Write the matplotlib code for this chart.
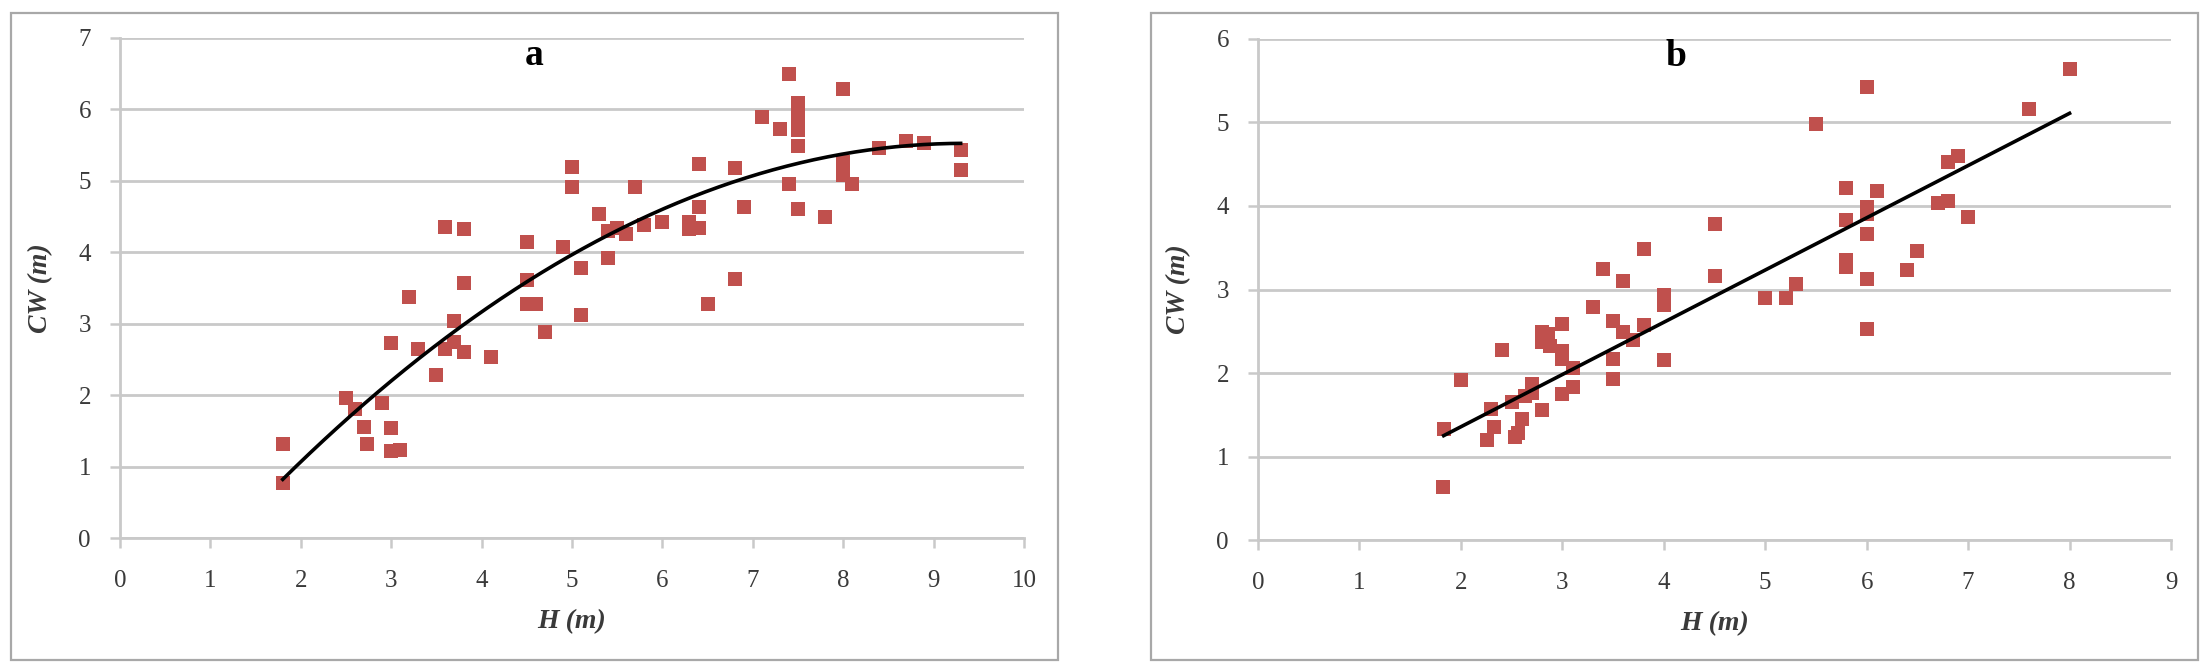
import matplotlib.pyplot as plt
import numpy as np
from matplotlib.patches import Rectangle

# Panel a: crown width vs height (quadratic trend)
h_a = [1.8, 1.8, 2.5, 2.6, 2.7, 2.73, 2.9, 3.0, 3.0, 3.0, 3.1, 3.2, 3.3, 3.5,
       3.6, 3.6, 3.7, 3.7, 3.8, 3.8, 3.8, 4.1, 4.5, 4.5, 4.5, 4.6, 4.7, 4.9,
       5.0, 5.0, 5.1, 5.1, 5.3, 5.4, 5.4, 5.5, 5.6, 5.7, 5.8, 6.0, 6.3, 6.3,
       6.4, 6.4, 6.4, 6.5, 6.8, 6.8, 6.9, 7.1, 7.3, 7.4, 7.4, 7.5, 7.5, 7.5,
       7.5, 7.5, 7.5, 7.8, 8.0, 8.0, 8.0, 8.0, 8.1, 8.4, 8.7, 8.9, 9.3, 9.3]
cw_a = [1.32, 0.77, 1.96, 1.81, 1.56, 1.32, 1.89, 2.73, 1.54, 1.22, 1.23, 3.38, 2.65, 2.28,
        4.36, 2.65, 3.04, 2.74, 4.33, 3.57, 2.61, 2.53, 4.15, 3.61, 3.28, 3.27, 2.89, 4.08,
        5.20, 4.91, 3.78, 3.12, 4.54, 4.30, 3.92, 4.34, 4.26, 4.91, 4.38, 4.42, 4.43, 4.33,
        5.24, 4.63, 4.34, 3.28, 5.18, 3.63, 4.64, 5.89, 5.72, 6.50, 4.96, 6.09, 5.96, 5.83,
        5.71, 5.49, 4.60, 4.50, 6.29, 5.26, 5.17, 5.08, 4.96, 5.46, 5.56, 5.53, 5.43, 5.15]

# Panel b: crown width vs height (linear trend)
h_b = [1.83, 1.82, 2.0, 2.26, 2.3, 2.33, 2.4, 2.5, 2.53, 2.56, 2.6, 2.63, 2.7, 2.7,
       2.8, 2.8, 2.8, 2.86, 2.88, 3.0, 3.0, 3.0, 3.0, 3.1, 3.1, 3.3, 3.4, 3.5,
       3.5, 3.5, 3.6, 3.6, 3.7, 3.8, 3.8, 4.0, 4.0, 4.0, 4.5, 4.5, 5.0, 5.2,
       5.3, 5.5, 5.8, 5.8, 5.8, 5.8, 6.0, 6.0, 6.0, 6.0, 6.0, 6.0, 6.1, 6.4,
       6.5, 6.7, 6.8, 6.8, 6.9, 7.0, 7.6, 8.0]
cw_b = [1.33, 0.63, 1.92, 1.20, 1.57, 1.35, 2.28, 1.65, 1.23, 1.28, 1.45, 1.73, 1.87, 1.76,
        1.56, 2.49, 2.37, 2.47, 2.32, 2.59, 2.26, 2.17, 1.75, 2.06, 1.83, 2.79, 3.25, 2.62,
        2.17, 1.93, 3.10, 2.49, 2.39, 3.48, 2.57, 2.93, 2.82, 2.15, 3.78, 3.16, 2.90, 2.90,
        3.07, 4.98, 4.22, 3.83, 3.35, 3.27, 5.42, 3.99, 3.90, 3.67, 3.13, 2.53, 4.18, 3.23,
        3.46, 4.04, 4.06, 4.53, 4.60, 3.87, 5.16, 5.64]

# trend line ends
trend_b_x = [1.83, 8.0]
trend_b_y = [1.25, 5.11]

GRID = '#c9c9c9'
RED = '#c0504d'
TEXT = '#3a3a3a'

plt.rcParams['font.family'] = ['Liberation Serif', 'DejaVu Serif']


def style_axes(ax, xmax, ymax):
    ax.set_xlim(0, xmax)
    ax.set_ylim(0, ymax)
    ax.set_xticks(range(0, xmax + 1))
    ax.set_yticks(range(0, ymax + 1))
    ax.yaxis.grid(True, color=GRID, linewidth=2.0)
    ax.set_axisbelow(True)
    for side in ['top', 'right']:
        ax.spines[side].set_visible(False)
    for side in ['left', 'bottom']:
        ax.spines[side].set_color(GRID)
        ax.spines[side].set_linewidth(2.0)
    ax.tick_params(axis='both', direction='out', length=7, width=1.8,
                   color=GRID, labelsize=18, labelcolor=TEXT)
    ax.tick_params(axis='x', pad=16)
    ax.tick_params(axis='y', pad=14)


def plot_panel(fig, rect, h, cw, xmax, ymax, letter):
    ax = fig.add_axes(rect)
    style_axes(ax, xmax, ymax)
    ax.scatter(h, cw, marker='s', s=105, color=RED, linewidths=0, zorder=3)
    ax.set_xlabel('H (m)', fontsize=20, fontstyle='italic', fontweight='bold',
                  color=TEXT, labelpad=12)
    ax.set_ylabel('CW (m)', fontsize=20, fontstyle='italic', fontweight='bold',
                  color=TEXT, labelpad=18)
    ax.text(0.458, 0.965, letter, transform=ax.transAxes, ha='center', va='center',
            fontsize=27, fontweight='bold', color='black')
    return ax


fig = plt.figure(figsize=(22.11, 6.71), dpi=100)

# outer frames around each panel
for left in [0.005, 0.5206]:
    fig.add_artist(Rectangle((left, 0.0164), 0.4735, 0.9642, transform=fig.transFigure,
                             fill=False, edgecolor='#a8a8a8', linewidth=1.6))

ax_a = plot_panel(fig, [0.0543, 0.1982, 0.4088, 0.7452], h_a, cw_a, 10, 7, 'a')
# second order polynomial trend, as in the spreadsheet
fit = np.poly1d(np.polyfit(h_a, cw_a, 2))
xs = np.linspace(min(h_a), max(h_a), 200)
ax_a.plot(xs, fit(xs), color='black', linewidth=2.6, zorder=4)

ax_b = plot_panel(fig, [0.5690, 0.1952, 0.4129, 0.7467], h_b, cw_b, 9, 6, 'b')
ax_b.plot(trend_b_x, trend_b_y, color='black', linewidth=2.6, zorder=4)

plt.savefig('out.png', dpi=100)
